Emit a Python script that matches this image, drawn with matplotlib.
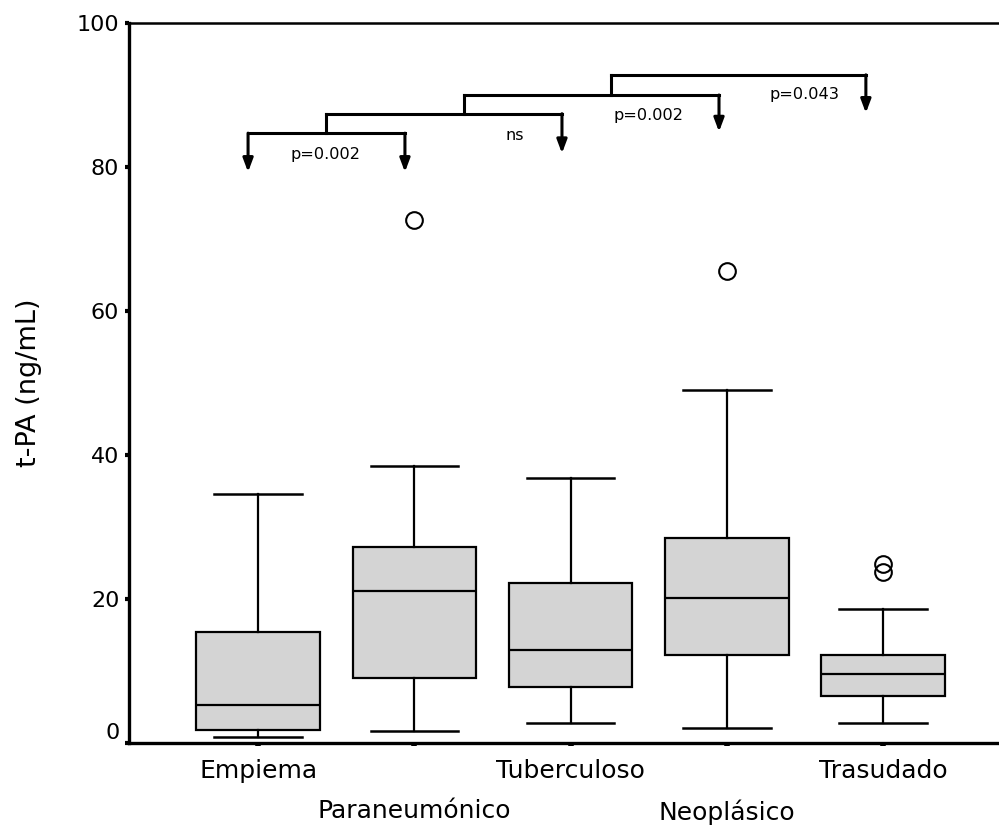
import matplotlib
matplotlib.use("Agg")
import matplotlib.pyplot as plt
import matplotlib.transforms as mtransforms

plt.rcParams['font.family'] = ['DejaVu Sans']

# grupos y estadísticos (ng/mL)
grupos = ['Empiema', 'Paraneumónico', 'Tuberculoso', 'Neoplásico', 'Trasudado']
whislo = [0.8, 1.7, 2.8, 2.1, 2.8]
q1 = [1.8, 9.0, 7.8, 12.2, 6.5]
med = [5.3, 21.1, 12.9, 20.1, 9.6]
q3 = [15.4, 27.2, 22.2, 28.5, 12.2]
whishi = [34.6, 38.5, 36.8, 49.0, 18.6]
outliers = [[], [72.6], [], [65.5], [23.8, 24.9]]

# comparaciones: (x izq, x der, nivel, punta flecha izq, punta flecha der, texto, x texto, y texto)
comparaciones = [
    (0.936, 1.94, 84.7, 79.3, 79.3, 'p=0.002', 1.43, 81.7),
    (1.435, 2.945, 87.4, None, 81.9, 'ns', 2.645, 84.4),
    (2.318, 3.95, 90.0, None, 84.9, 'p=0.002', 3.50, 87.2),
    (3.26, 4.89, 92.8, None, 87.5, 'p=0.043', 4.50, 90.0),
]

fig = plt.figure(figsize=(9.99, 8.31), dpi=100)
ax = fig.add_axes([129 / 999, 1 - 743 / 831, 870 / 999, 720 / 831])

stats = []
for i in range(len(grupos)):
    stats.append(dict(whislo=whislo[i], q1=q1[i], med=med[i], q3=q3[i],
                      whishi=whishi[i], fliers=outliers[i], label=grupos[i]))

pos = list(range(1, len(grupos) + 1))
ax.bxp(stats, positions=pos, widths=0.79, capwidths=0.56, patch_artist=True,
       boxprops=dict(facecolor='#d4d4d4', edgecolor='black', linewidth=1.6),
       medianprops=dict(color='black', linewidth=1.6),
       whiskerprops=dict(color='black', linewidth=1.6),
       capprops=dict(color='black', linewidth=1.8),
       flierprops=dict(marker='o', markersize=12, markerfacecolor='none',
                       markeredgecolor='black', markeredgewidth=1.5))

# corchetes de comparación
for xl, xr, lvl, tl, tr, txt, tx, ty in comparaciones:
    ax.plot([xl, xr], [lvl, lvl], color='black', lw=2.2, solid_capstyle='projecting')
    for x, tip in ((xl, tl), (xr, tr)):
        if tip is not None:
            ax.annotate('', xy=(x, tip), xytext=(x, lvl),
                        arrowprops=dict(arrowstyle='-|>,head_length=0.8,head_width=0.3',
                                        color='black', lw=2.2, shrinkA=0, shrinkB=0))
    ax.text(tx, ty, txt, ha='center', va='center', fontsize=11.6)

# conectores verticales entre niveles
for a, b in zip(comparaciones[:-1], comparaciones[1:]):
    ax.plot([b[0], b[0]], [a[2], b[2]], color='black', lw=2.2)

ax.set_xlim(0.174, 5.742)
ax.set_ylim(0, 100)
ax.set_yticks([0, 20, 40, 60, 80, 100])
ax.set_xticks(pos)
ax.set_xticklabels(grupos, fontsize=18)
ax.tick_params(axis='y', labelsize=16, length=3, width=3, pad=4)
ax.tick_params(axis='x', length=2.5, width=4, pad=9)
for i, t in enumerate(ax.xaxis.get_major_ticks()):
    if i % 2 == 1:
        t.set_pad(38)

# la etiqueta "0" aparece algo más arriba en el original
lab0 = ax.yaxis.get_major_ticks()[0].label1
lab0.set_transform(lab0.get_transform() + mtransforms.ScaledTranslation(0, 0.12, fig.dpi_scale_trans))

ax.spines['right'].set_visible(False)
ax.spines['top'].set_linewidth(1.8)
for s in ['left', 'bottom']:
    ax.spines[s].set_linewidth(2.4)

ax.set_ylabel('t-PA (ng/mL)', fontsize=19.5)
ax.yaxis.set_label_coords(-0.1, 0.5)

fig.savefig('out.png', dpi=100)
